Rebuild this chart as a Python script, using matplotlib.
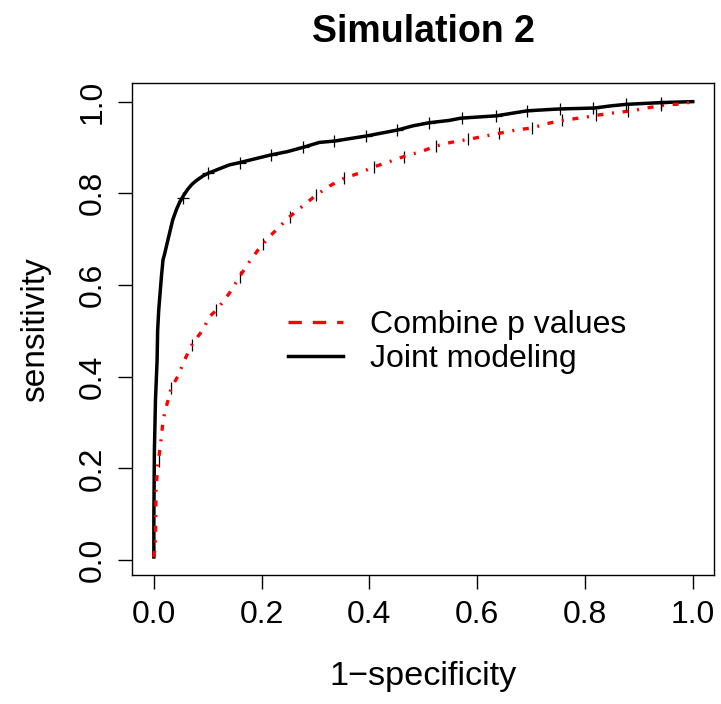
import matplotlib
matplotlib.use("Agg")
import matplotlib.pyplot as plt
from matplotlib.lines import Line2D

plt.rcParams['font.family'] = ['Liberation Sans', 'DejaVu Sans']

# Joint modeling ROC curve
joint_x = [0.0, 0.0, 0.001, 0.003, 0.006, 0.007, 0.009, 0.014, 0.017, 0.02, 0.026, 0.035,
           0.042, 0.048, 0.056, 0.063, 0.071, 0.079, 0.09, 0.101, 0.14, 0.159, 0.218, 0.248,
           0.276, 0.307, 0.335, 0.394, 0.452, 0.48, 0.511, 0.548, 0.57, 0.635, 0.672, 0.693,
           0.752, 0.817, 0.85, 0.876, 0.943, 1.0]
joint_y = [0.007, 0.094, 0.24, 0.349, 0.436, 0.50, 0.545, 0.618, 0.655, 0.668, 0.698, 0.742,
           0.765, 0.781, 0.797, 0.809, 0.820, 0.828, 0.837, 0.844, 0.862, 0.867, 0.884, 0.891,
           0.900, 0.911, 0.914, 0.925, 0.938, 0.947, 0.954, 0.959, 0.964, 0.969, 0.976, 0.980,
           0.984, 0.986, 0.991, 0.994, 0.998, 1.0]

# Combine p values ROC curve
comb_x = [0.0, 0.003, 0.004, 0.007, 0.011, 0.014, 0.017, 0.023, 0.032, 0.044, 0.06, 0.072,
          0.091, 0.103, 0.116, 0.14, 0.159, 0.175, 0.193, 0.214, 0.252, 0.279, 0.301,
          0.326, 0.353, 0.381, 0.409, 0.437, 0.468, 0.496, 0.523, 0.551, 0.585, 0.641,
          0.672, 0.703, 0.733, 0.758, 0.795, 0.826, 0.857, 0.888, 0.919, 0.95, 0.981, 1.0]
comb_y = [0.007, 0.036, 0.153, 0.204, 0.24, 0.269, 0.305, 0.334, 0.375, 0.40, 0.444, 0.473,
          0.502, 0.531, 0.545, 0.582, 0.618, 0.647, 0.676, 0.705, 0.749, 0.775, 0.796,
          0.816, 0.833, 0.844, 0.858, 0.869, 0.882, 0.891, 0.903, 0.911, 0.918, 0.931,
          0.938, 0.943, 0.953, 0.959, 0.965, 0.971, 0.976, 0.980, 0.987, 0.993, 0.995, 1.0]

# "+" marks along curves
joint_mark_x = [0.054, 0.101, 0.159, 0.218, 0.276, 0.335, 0.394, 0.452, 0.511, 0.571,
                0.634, 0.693, 0.754, 0.815, 0.876, 0.941]
joint_mark_y = [0.79, 0.844, 0.867, 0.884, 0.900, 0.914, 0.925, 0.938, 0.954, 0.964,
                0.969, 0.980, 0.984, 0.986, 0.994, 0.998]
comb_mark_x = [0.009, 0.032, 0.071, 0.115, 0.159, 0.203, 0.252, 0.301, 0.353, 0.409,
               0.465, 0.523, 0.583, 0.641, 0.702, 0.758, 0.82, 0.88, 0.942]
comb_mark_y = [0.217, 0.375, 0.47, 0.545, 0.618, 0.69, 0.749, 0.796, 0.833, 0.858,
               0.88, 0.903, 0.918, 0.931, 0.943, 0.959, 0.971, 0.98, 0.993]

ticks = [0.0, 0.2, 0.4, 0.6, 0.8, 1.0]
tick_labels = ["0.0", "0.2", "0.4", "0.6", "0.8", "1.0"]
labels = ["Combine p values", "Joint modeling"]

fig = plt.figure(figsize=(7.21, 7.04), dpi=100)
ax = fig.add_axes([0.1835, 0.1828, 0.8072, 0.6989])

ax.plot(joint_x, joint_y, color='black', lw=2.5, zorder=3)
ax.plot(joint_mark_x, joint_mark_y, linestyle='none', marker='+', color='black',
        markersize=9, markeredgewidth=0.9, zorder=4)
ax.plot(comb_mark_x, comb_mark_y, linestyle='none', marker='|', color='black',
        markersize=9, markeredgewidth=0.9, zorder=2)
ax.plot(comb_x, comb_y, color='red', lw=2.4, linestyle=(0, (1.8, 2.6, 0.6, 2.6)), zorder=3)

ax.set_xlim(-0.04, 1.04)
ax.set_ylim(-0.033, 1.04)
ax.set_xticks(ticks)
ax.set_xticklabels(tick_labels)
ax.set_yticks(ticks)
ax.set_yticklabels(tick_labels, rotation=90, va='center')
ax.tick_params(axis='both', direction='out', length=10, width=1, labelsize=23, pad=8)
for s in ax.spines.values():
    s.set_linewidth(1)

ax.set_title("Simulation 2", fontsize=27, fontweight='bold', pad=30)
ax.set_xlabel("1\u2212specificity", fontsize=24.7, labelpad=22)
ax.set_ylabel("sensitivity", fontsize=24, labelpad=19)

handles = [Line2D([], [], color='red', lw=2.4, linestyle=(0, (4, 3.3))),
           Line2D([], [], color='black', lw=2.5)]
ax.legend(handles, labels, loc='upper left', bbox_to_anchor=(288 / 721, 1 - 310 / 704),
          bbox_transform=fig.transFigure, frameon=False, fontsize=23, handlelength=1.72,
          handletextpad=0.84, labelspacing=0.12, borderpad=0, borderaxespad=0)

fig.savefig("out.png", dpi=100)
